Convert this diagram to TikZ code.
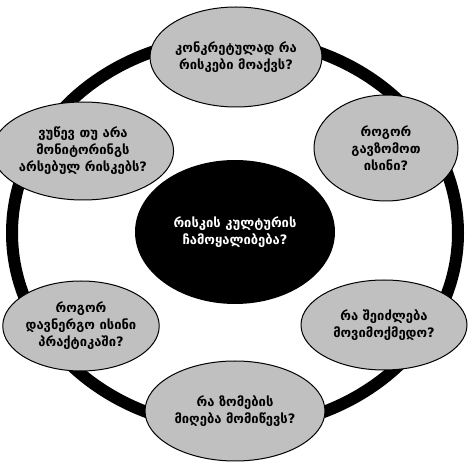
\documentclass[tikz,border=0pt]{standalone}
\usepackage{fontspec}
\setmainfont{DejaVu Sans}
\usetikzlibrary{shapes.geometric}
\definecolor{bubblegray}{RGB}{192,192,192}
\tikzset{
  bubble/.style={ellipse, draw=black, line width=1pt, fill=bubblegray, inner sep=0pt, align=center, font=\bfseries\fontsize{13}{17}\selectfont},
  hub/.style={ellipse, fill=black, inner sep=0pt, align=center, text=white, font=\bfseries\fontsize{13}{17}\selectfont}
}
\begin{document}
\begin{tikzpicture}[x=1pt,y=-1pt]
\useasboundingbox (0,0) rectangle (469,462);
\draw[line width=12pt] (235,233) ellipse [x radius=223, y radius=195];
\node[hub, minimum width=200pt, minimum height=144pt] (hubnode) at (235,232) {რისკის კულტურის\\ჩამოყალიბება?};
\node[bubble, minimum width=172pt, minimum height=100pt] (top) at (236,57) {კონკრეტულად რა\\რისკები მოაქვს?};
\node[bubble, minimum width=144pt, minimum height=106pt] (ru) at (386,148) {როგორ\\გავზომოთ\\ისინი?};
\node[bubble, minimum width=160pt, minimum height=98pt] (lu) at (83,151) {ვუწევ თუ არა\\მონიტორინგს\\არსებულ რისკებს?};
\node[bubble, minimum width=166pt, minimum height=90pt] (rl) at (384,325) {რა შეიძლება\\მოვიმოქმედო?};
\node[bubble, minimum width=132pt, minimum height=90pt] (ll) at (81,326) {როგორ\\დავნერგო ისინი\\პრაქტიკაში?};
\node[bubble, minimum width=180pt, minimum height=100pt] (bot) at (235,411) {რა ზომების\\მიღება მომიწევს?};
\end{tikzpicture}
\end{document}
